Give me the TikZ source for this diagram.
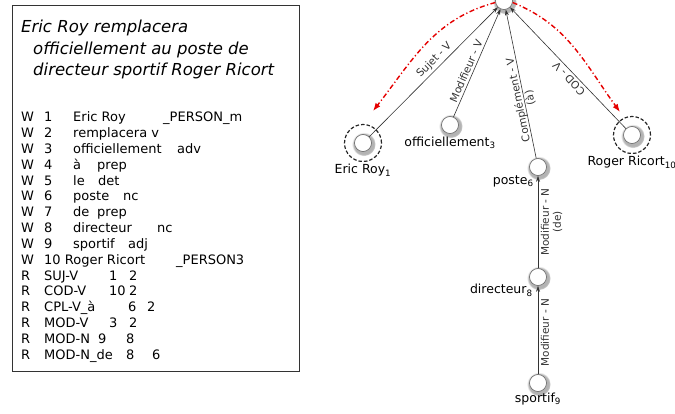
\documentclass[tikz,border=0pt]{standalone}
\usepackage{fontspec}
\setmainfont{DejaVu Sans}
\usetikzlibrary{arrows.meta,shadows,positioning}

\tikzset{
  word/.style={circle, draw=black!60, line width=0.6pt, fill=white, minimum size=17pt, inner sep=0pt,
    circular drop shadow={shadow xshift=0.6pt, shadow yshift=-0.9pt, shadow scale=1.4, opacity=0.6}},
  ring/.style={circle, draw=black!85, line width=1.2pt, dash pattern=on 3.5pt off 2pt,
    minimum size=37pt, inner sep=0pt},
  wlabel/.style={font=\fontsize{12.5}{14}\selectfont, inner sep=1pt},
  elabel/.style={font=\fontsize{10.5}{12}\selectfont, text=black!80, inner sep=2.5pt, sloped},
  dep/.style={black!80, line width=0.6pt, -{Stealth[length=6pt,width=4pt]}},
  coref/.style={red!90!black, line width=1.4pt, dash pattern=on 5pt off 2.5pt on 1.2pt off 2.5pt,
    -{Latex[length=8pt,width=6pt]}},
  listline/.style={anchor=base west, inner sep=0pt, font=\fontsize{13}{15}\selectfont},
  titleline/.style={anchor=base west, inner sep=0pt, font=\fontsize{16.5}{19}\selectfont\itshape}
}

\begin{document}
\begin{tikzpicture}[x=1pt,y=1pt]
  \useasboundingbox (0,0) rectangle (675,-414);
  % sentence and its annotation
  \draw[black!80, line width=0.9pt] (12,-5) rectangle (299,-371);
  \node[titleline] (title1) at (21,-33) {Eric Roy remplacera};
  \node[titleline] (title2) at (33,-55) {officiellement au poste de};
  \node[titleline] (title3) at (33,-76) {directeur sportif Roger Ricort};
  \node[listline] (w1) at (21,-122.0) {\makebox[23pt][l]{W}\makebox[29pt][l]{1}\makebox[90pt][l]{Eric Roy}\_PERSON\_m};
  \node[listline] (w2) at (21,-137.8) {\makebox[23pt][l]{W}\makebox[29pt][l]{2}remplacera v};
  \node[listline] (w3) at (21,-153.6) {\makebox[23pt][l]{W}\makebox[29pt][l]{3}\makebox[104pt][l]{officiellement}adv};
  \node[listline] (w4) at (21,-169.4) {\makebox[23pt][l]{W}\makebox[29pt][l]{4}\makebox[24pt][l]{à}prep};
  \node[listline] (w5) at (21,-185.2) {\makebox[23pt][l]{W}\makebox[29pt][l]{5}\makebox[25pt][l]{le}det};
  \node[listline] (w6) at (21,-201.0) {\makebox[23pt][l]{W}\makebox[29pt][l]{6}\makebox[50pt][l]{poste}nc};
  \node[listline] (w7) at (21,-216.8) {\makebox[23pt][l]{W}\makebox[29pt][l]{7}\makebox[24pt][l]{de}prep};
  \node[listline] (w8) at (21,-232.6) {\makebox[23pt][l]{W}\makebox[29pt][l]{8}\makebox[84pt][l]{directeur}nc};
  \node[listline] (w9) at (21,-248.4) {\makebox[23pt][l]{W}\makebox[29pt][l]{9}\makebox[55pt][l]{sportif}adj};
  \node[listline] (w10) at (21,-264.2) {\makebox[23pt][l]{W}\makebox[132pt][l]{10 Roger Ricort}\_PERSON3};
  \node[listline] (r1) at (21,-280.0) {\makebox[23pt][l]{R}\makebox[65pt][l]{SUJ-V}\makebox[20pt][l]{1}2};
  \node[listline] (r2) at (21,-295.8) {\makebox[23pt][l]{R}\makebox[65pt][l]{COD-V}\makebox[20pt][l]{10}2};
  \node[listline] (r3) at (21,-311.6) {\makebox[23pt][l]{R}\makebox[84pt][l]{CPL-V\_à}\makebox[19pt][l]{6}2};
  \node[listline] (r4) at (21,-327.4) {\makebox[23pt][l]{R}\makebox[65pt][l]{MOD-V}\makebox[20pt][l]{3}2};
  \node[listline] (r5) at (21,-343.2) {\makebox[23pt][l]{R}\makebox[54pt][l]{MOD-N}\makebox[28pt][l]{9}8};
  \node[listline] (r6) at (21,-359.0) {\makebox[23pt][l]{R}\makebox[82pt][l]{MOD-N\_de}\makebox[26pt][l]{8}6};

  % dependency tree
  \node[ring] (ericring) at (363,-143) {};
  \node[ring] (rogerring) at (632,-135) {};
  \node[word] (rempl) at (504,-1) {};
  \node[word] (eric) at (363,-143) {};
  \node[word] (offic) at (450,-125) {};
  \node[word] (poste) at (538,-167) {};
  \node[word] (roger) at (632,-135) {};
  \node[word] (direct) at (538,-277) {};
  \node[word] (sportif) at (538,-383) {};
  \node[wlabel, below=1pt of ericring] (ericlab) {Eric Roy\textsubscript{1}};
  \node[wlabel, below=2pt of offic] (offlab) {officiellement\textsubscript{3}};
  \node[wlabel, below=1pt of rogerring] (rogerlab) {Roger Ricort\textsubscript{10}};
  \node[wlabel, below left=1pt and -3pt of poste] (postelab) {poste\textsubscript{6}};
  \node[wlabel, below left=0pt and -2pt of direct] (directlab) {directeur\textsubscript{8}};
  \node[wlabel, below=0pt of sportif] (sportiflab) {sportif\textsubscript{9}};

  \draw[dep] (eric) -- node[elabel, above, pos=0.55] {Sujet - V} (rempl);
  \draw[dep] (offic) -- node[elabel, above, pos=0.4] {Modifieur - V} (rempl);
  \draw[dep] (poste) -- node[elabel, allow upside down, pos=0.4, align=center] {Complément - V\\(à)} (rempl);
  \draw[dep] (roger) -- node[elabel, above, allow upside down, pos=0.45] {COD - V} (rempl);
  \draw[dep] (direct) -- node[elabel, below, pos=0.5, align=center] {Modifieur - N\\(de)} (poste);
  \draw[dep] (sportif) -- node[elabel, below, pos=0.47] {Modifieur - N} (direct);

  % coreference arcs
  \coordinate (ericend) at (373,-111);
  \coordinate (rogerend) at (620,-112);
  \draw[coref] (rempl.190) to[out=195,in=52] (ericend);
  \draw[coref] (rempl.350) to[out=-22,in=126] (rogerend);
\end{tikzpicture}
\end{document}
